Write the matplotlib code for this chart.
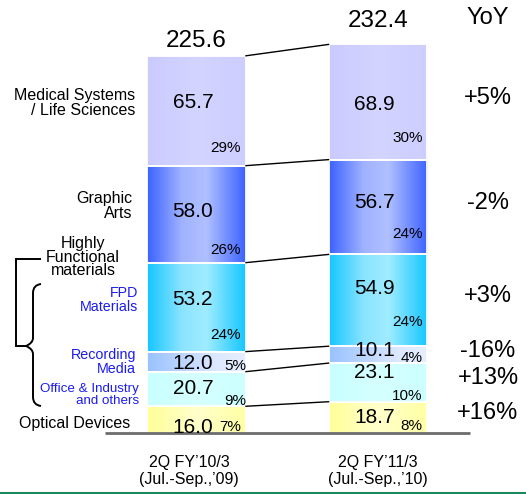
import matplotlib
matplotlib.use("Agg")
import matplotlib.pyplot as plt
import numpy as np
from matplotlib.colors import LinearSegmentedColormap
from matplotlib.transforms import Affine2D
from matplotlib.path import Path
from matplotlib.patches import PathPatch

plt.rcParams['font.family'] = ['Liberation Sans', 'DejaVu Sans']

# ---- data ----
periods = ["2Q FY\u201910/3\n(Jul.-Sep.,\u201909)", "2Q FY\u201911/3\n(Jul.-Sep.,\u201910)"]
segments = ["Optical Devices", "Office & Industry and others", "Recording Media",
            "FPD Materials", "Graphic Arts", "Medical Systems / Life Sciences"]
values_09 = [16.0, 20.7, 12.0, 53.2, 58.0, 65.7]
values_10 = [18.7, 23.1, 10.1, 54.9, 56.7, 68.9]
share_09 = ["7%", "9%", "5%", "24%", "26%", "29%"]
share_10 = ["8%", "10%", "4%", "24%", "24%", "30%"]
totals = [225.6, 232.4]
yoy = ["+16%", "+13%", "-16%", "+3%", "-2%", "+5%"]

W, H = 526, 494
fig = plt.figure(figsize=(W / 100, H / 100), dpi=100)
ax = fig.add_axes([0, 0, 1, 1])
ax.set_axis_off()

# pixel transform (top-left origin) for free annotations
pxT = Affine2D().scale(1 / W, -1 / H).translate(0, 1) + fig.transFigure

xpos = [0, 1]
bw = 0.545

# gradient colour stops per segment
grads = [
    [(0, '#ffff99'), (0.5, '#ffffcc'), (1, '#ffffa3')],
    [(0, '#c8ffff'), (0.5, '#d6ffff'), (1, '#ccffff')],
    [(0, '#99c2ff'), (0.7, '#dce8ff'), (1, '#e6efff')],
    [(0, '#14c6ff'), (0.35, '#8ae4ff'), (0.6, '#a0ecff'), (1, '#14c6ff')],
    [(0, '#3c62ff'), (0.35, '#a0b2ff'), (0.6, '#b0c0ff'), (1, '#3c62ff')],
    [(0, '#cacaff'), (0.5, '#d4d4ff'), (1, '#cdcdff')],
]

all_vals = [values_09, values_10]
bounds = []
for bi, vals in enumerate(all_vals):
    b = np.concatenate([[0], np.cumsum(vals)])
    bounds.append(b)

grad_img = np.linspace(0, 1, 256).reshape(1, -1)
for si in range(len(segments)):
    heights = [all_vals[0][si], all_vals[1][si]]
    bottoms = [bounds[0][si], bounds[1][si]]
    bars = ax.bar(xpos, heights, bottom=bottoms, width=bw, facecolor='none',
                  edgecolor='white', linewidth=1.3, zorder=3)
    cmap = LinearSegmentedColormap.from_list(f"g{si}", grads[si])
    for p in bars.patches:
        x0, y0 = p.get_x(), p.get_y()
        im = ax.imshow(grad_img, extent=[x0, x0 + p.get_width(), y0, y0 + p.get_height()],
                       aspect='auto', cmap=cmap, zorder=2, interpolation='bilinear')
        im.set_clip_path(p)

# connector lines between bars
for k in range(1, len(segments) + 1):
    ax.plot([xpos[0] + bw / 2, xpos[1] - bw / 2], [bounds[0][k], bounds[1][k]],
            color='black', lw=1.0, zorder=4)

# baseline
ax.plot([-0.504, 1.507], [0, 0], color='#6b6b6b', lw=2.0, zorder=5, solid_capstyle='butt')

# value labels (offsets in pixels, + is down)
val_off = [[8, 0, 2, -8, -3, -8], [0, -10, -4, -12, -5, 2]]
pct_off = [[-6, -5, -6, -17, -13, -18], [-7, -6, -5, -24, -20, -22]]
shares = [share_09, share_10]
for bi in range(2):
    for si in range(len(segments)):
        v = all_vals[bi][si]
        yc = bounds[bi][si] + v / 2
        ax.annotate(f"{v:.1f}", xy=(xpos[bi] - 0.02, yc), xytext=(0, -val_off[bi][si] * 0.72),
                    textcoords='offset points', ha='center', va='center', fontsize=15, zorder=6)
        ax.annotate(shares[bi][si], xy=(xpos[bi] + bw / 2, bounds[bi][si]),
                    xytext=(-5 * 0.72 + (4 if (bi == 0 and si in (1, 2)) else 0), -pct_off[bi][si] * 0.72),
                    textcoords='offset points', ha='right', va='center', fontsize=11, zorder=6)

# totals
tot_off = [15, 23]
for bi in range(2):
    ax.annotate(f"{totals[bi]:.1f}", xy=(xpos[bi], bounds[bi][-1]), xytext=(0, tot_off[bi] * 0.72),
                textcoords='offset points', ha='center', va='center', fontsize=17.5)

# YoY column
ax.text(488, 18, "YoY", transform=pxT, ha='center', va='center', fontsize=17)
for si in range(len(segments)):
    yc = bounds[1][si] + all_vals[1][si] / 2
    ax.annotate(yoy[si], xy=(xpos[1], yc), xytext=((488 - 378) * 0.72, 4 * 0.72),
                textcoords='offset points', ha='center', va='center', fontsize=17)

# period labels
for bi in range(2):
    ax.text([189, 378][bi], 471, periods[bi], transform=pxT, ha='center', va='center',
            fontsize=11.5, linespacing=1.15)

# left labels
ax.text(135, 103, "Medical Systems\n/ Life Sciences", transform=pxT, ha='right', va='center',
        fontsize=11.5, linespacing=0.95)
ax.text(132, 206, "Graphic\nArts", transform=pxT, ha='right', va='center',
        fontsize=11.5, linespacing=0.95)
ax.text(83, 257, "Highly\nFunctional\nmaterials", transform=pxT, ha='center', va='center',
        fontsize=11.5, linespacing=0.9)
blue = '#1c1cf0'
ax.text(138, 300, "FPD\nMaterials", transform=pxT, ha='right', va='center',
        fontsize=10.3, linespacing=1.0, color=blue)
ax.text(136, 362, "Recording\nMedia", transform=pxT, ha='right', va='center',
        fontsize=10.3, linespacing=0.95, color=blue)
ax.text(139, 395, "Office & Industry\nand others", transform=pxT, ha='right', va='center',
        fontsize=9.6, linespacing=0.95, color=blue)
ax.text(130, 423, "Optical Devices", transform=pxT, ha='right', va='center', fontsize=11.5)

# square bracket
ax.add_patch(PathPatch(Path([(41, 259), (16, 259), (16, 346), (27, 346)]),
                       transform=pxT, fill=False, lw=1.4, color='black'))
# curly brace
brace = Path([(41, 284), (33, 285), (33, 293),
              (33, 338),
              (33, 343), (26, 346),
              (33, 349), (33, 354),
              (33, 397),
              (33, 405), (41, 406)],
             [Path.MOVETO, Path.CURVE3, Path.CURVE3,
              Path.LINETO,
              Path.CURVE3, Path.CURVE3,
              Path.CURVE3, Path.CURVE3,
              Path.LINETO,
              Path.CURVE3, Path.CURVE3])
ax.add_patch(PathPatch(brace, transform=pxT, fill=False, lw=1.4, color='black'))

# bottom green rule
ax.add_patch(PathPatch(Path([(0, 493), (W, 493)]), transform=pxT, fill=False, lw=1.5, color='#1a8a5e'))

ax.set_xlim(-196.5 / 181.5, (W - 196.5) / 181.5)
ax.set_ylim(-(H - 433) / 1.672, 433 / 1.672)

fig.savefig("out.png", dpi=100)
